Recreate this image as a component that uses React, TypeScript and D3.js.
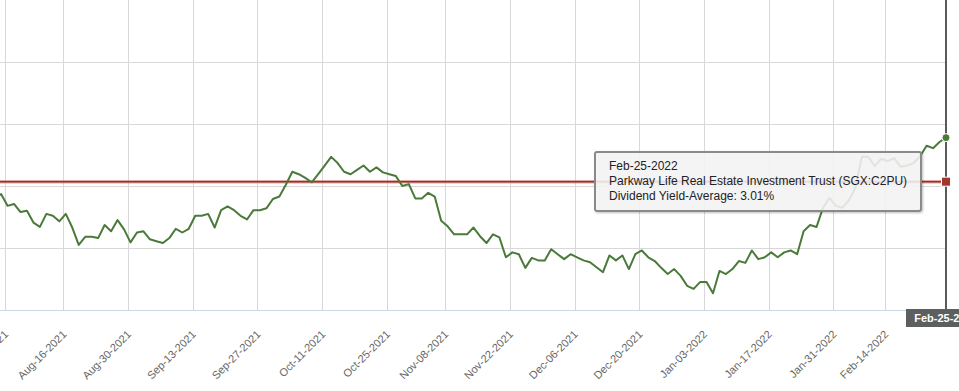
import React from "react";
import * as d3 from "d3";

const W = 959;
const H = 391;

// Trading calendar (SGX) — first date in view and holidays skipped
const startDate = "2021-07-29";
const endDate = "2022-02-25";
const holidays = ["2021-08-09", "2021-11-04", "2022-02-01", "2022-02-02"];

// Dividend yield (%) per trading day, Jul-29-2021 .. Feb-25-2022
const yieldValues = [
  2.982, 2.987, 2.968, 2.971, 2.958, 2.960, 2.941, 2.934, 2.955, 2.952,
  2.943, 2.955, 2.933, 2.905, 2.918, 2.918, 2.916, 2.937, 2.927, 2.945,
  2.930, 2.909, 2.925, 2.927, 2.914, 2.911, 2.908, 2.916, 2.931, 2.925,
  2.931, 2.952, 2.952, 2.955, 2.933, 2.961, 2.967, 2.961, 2.952, 2.946,
  2.961, 2.961, 2.964, 2.979, 2.983, 3.002, 3.023, 3.019, 3.013, 3.006,
  3.019, 3.033, 3.047, 3.037, 3.023, 3.019, 3.026, 3.033, 3.023, 3.030,
  3.022, 3.019, 3.016, 3.000, 3.003, 2.980, 2.980, 2.989, 2.983, 2.944,
  2.935, 2.922, 2.922, 2.922, 2.933, 2.919, 2.908, 2.922, 2.917, 2.885,
  2.893, 2.890, 2.868, 2.884, 2.880, 2.880, 2.898, 2.890, 2.882, 2.890,
  2.885, 2.880, 2.877, 2.869, 2.861, 2.888, 2.880, 2.888, 2.866, 2.890,
  2.896, 2.885, 2.879, 2.868, 2.858, 2.866, 2.855, 2.839, 2.834, 2.845,
  2.845, 2.827, 2.863, 2.858, 2.866, 2.879, 2.876, 2.896, 2.882, 2.885,
  2.893, 2.885, 2.893, 2.896, 2.890, 2.927, 2.937, 2.934, 2.965, 2.981,
  2.968, 2.965, 2.977, 2.997, 3.047, 3.047, 3.032, 3.044, 3.040, 3.045,
  3.031, 3.033, 3.037, 3.048, 3.065, 3.061, 3.071, 3.078,
];

const averageYield = 3.007;
const averageLabel = "3.01%";
const companyName = "Parkway Life Real Estate Investment Trust (SGX:C2PU)";

const tickLabels = [
  "Aug-02-2021", "Aug-16-2021", "Aug-30-2021", "Sep-13-2021", "Sep-27-2021",
  "Oct-11-2021", "Oct-25-2021", "Nov-08-2021", "Nov-22-2021", "Dec-06-2021",
  "Dec-20-2021", "Jan-03-2022", "Jan-17-2022", "Jan-31-2022", "Feb-14-2022",
];
const yGridValues = [2.9, 3.0, 3.1, 3.2];

const parse = d3.timeParse("%Y-%m-%d");
const fmtIso = d3.timeFormat("%Y-%m-%d");
const fmt = d3.timeFormat("%b-%d-%Y");

function tradingDays(): Date[] {
  const out: Date[] = [];
  const hs = new Set(holidays);
  const end = parse(endDate)!;
  for (let d = parse(startDate)!; d <= end; d = d3.timeDay.offset(d, 1)) {
    const wd = d.getDay();
    if (wd === 0 || wd === 6) continue;
    if (hs.has(fmtIso(d))) continue;
    out.push(d);
  }
  return out;
}

export default function App() {
  const dates = tradingDays();
  const data = yieldValues.map((v, i) => ({ date: dates[i], value: v, i }));
  const last = data[data.length - 1];

  const plotLeft = -5.4;
  const plotRight = 946;
  const plotBottom = 310;
  const x = d3.scaleLinear().domain([0, data.length - 1]).range([plotLeft, plotRight]);
  const y = d3.scaleLinear().domain([2.8, 3.3]).range([plotBottom, 0]);

  const line = d3
    .line<{ i: number; value: number }>()
    .x((d) => x(d.i))
    .y((d) => y(d.value));

  const labelIndex = new Map(dates.map((d, i) => [fmt(d), i]));
  const ticks = tickLabels.map((t) => ({ label: t, pos: x((labelIndex.get(t) ?? 0) - 0.4) }));

  const font = "'Liberation Sans', Arial, sans-serif";
  const lx = x(last.i);
  const avgY = y(averageYield);

  const tipX = 595;
  const tipY = 152;
  const tipW = 326;
  const tipH = 59;

  return (
    <div style={{ position: "absolute", left: 0, top: 0, width: W, height: H, background: "#fff" }}>
      <svg width={W} height={H} style={{ display: "block" }}>
        <defs>
          <filter id="shadow" x="-10%" y="-20%" width="130%" height="160%">
            <feDropShadow dx="1" dy="1" stdDeviation="1.2" floodColor="#000" floodOpacity="0.25" />
          </filter>
        </defs>
        {/* horizontal grid */}
        {yGridValues.map((v) => (
          <line key={v} x1={0} x2={plotRight} y1={Math.round(y(v)) + 0.5} y2={Math.round(y(v)) + 0.5} stroke="#d8d8d8" strokeWidth={1} />
        ))}
        {/* vertical grid */}
        {ticks.map((t) => (
          <line key={t.label} x1={Math.round(t.pos) + 0.5} x2={Math.round(t.pos) + 0.5} y1={0} y2={plotBottom} stroke="#d8d8d8" strokeWidth={1} />
        ))}
        {/* x axis line */}
        <line x1={0} x2={plotRight} y1={plotBottom + 0.5} y2={plotBottom + 0.5} stroke="#ccd6eb" strokeWidth={1} />
        {/* tick labels */}
        {ticks.map((t) => (
          <text
            key={t.label}
            transform={`translate(${t.pos + 4},${plotBottom + 25}) rotate(-45)`}
            textAnchor="end"
            fontFamily={font}
            fontSize={11}
            fill="#666666"
          >
            {t.label}
          </text>
        ))}
        {/* average line */}
        <line x1={0} x2={lx} y1={avgY} y2={avgY} stroke="#c9625c" strokeOpacity={0.55} strokeWidth={3.5} />
        <line x1={0} x2={lx} y1={avgY} y2={avgY} stroke="#9e2e27" strokeWidth={1.5} />
        {/* series line */}
        <path d={line(data) ?? ""} fill="none" stroke="#4a7a3a" strokeWidth={2} strokeLinejoin="round" />
        {/* crosshair */}
        <line x1={lx} x2={lx} y1={0} y2={plotBottom} stroke="#5a5a5a" strokeWidth={2} />
        {/* markers */}
        <circle cx={lx} cy={y(last.value)} r={4} fill="#4a7a3a" stroke="#fff" strokeWidth={1} />
        <rect x={lx - 4.5} y={avgY - 4.5} width={9} height={9} fill="#a3352d" stroke="#fff" strokeWidth={1} />
        {/* crosshair label */}
        <rect x={lx - 40} y={plotBottom - 1} width={80} height={18} fill="#5b5f5f" />
        <text x={lx} y={plotBottom + 12} textAnchor="middle" fontFamily={font} fontSize={11} fontWeight="bold" fill="#fff">
          {fmt(last.date)}
        </text>
        {/* tooltip */}
        <g filter="url(#shadow)">
          <rect x={tipX} y={tipY} width={tipW} height={tipH} rx={2} fill="#f7f7f7" fillOpacity={0.85} stroke="#8a8a8a" strokeWidth={2} />
        </g>
        <text fontFamily={font} fontSize={12} fill="#222">
          <tspan x={tipX + 14} y={tipY + 18}>{fmt(last.date)}</tspan>
          <tspan x={tipX + 14} y={tipY + 33}>{companyName}</tspan>
          <tspan x={tipX + 14} y={tipY + 48}>{`Dividend Yield-Average: ${averageLabel}`}</tspan>
        </text>
      </svg>
    </div>
  );
}
